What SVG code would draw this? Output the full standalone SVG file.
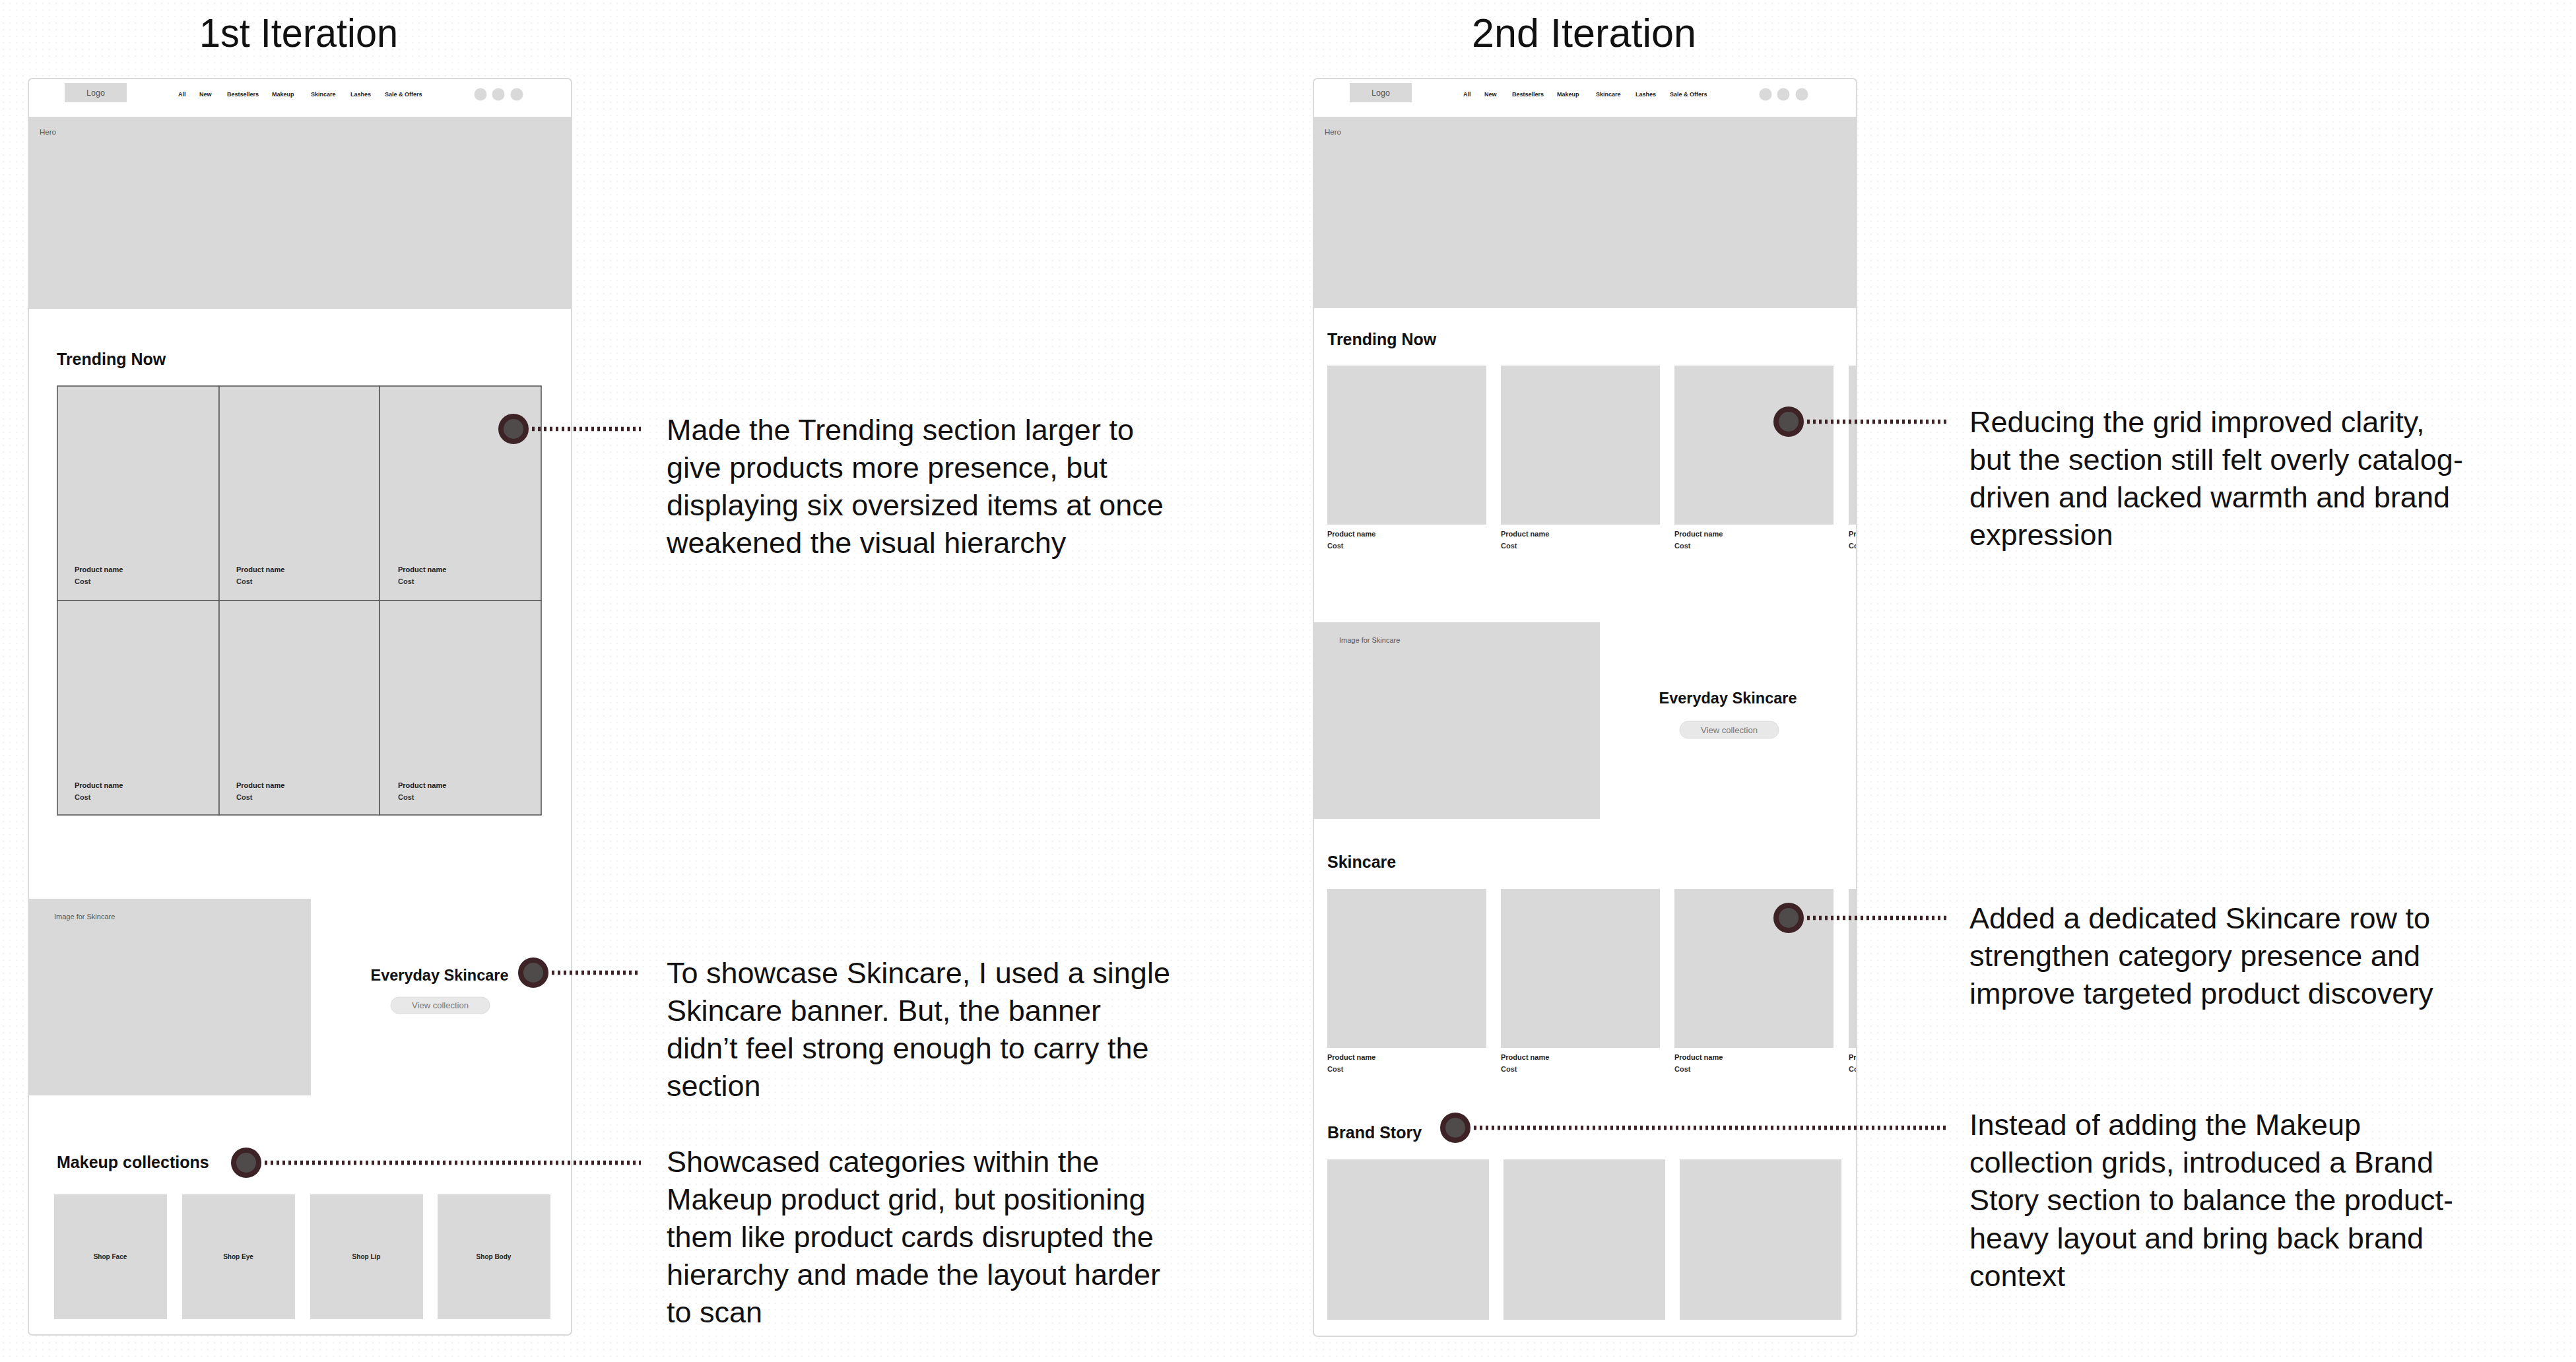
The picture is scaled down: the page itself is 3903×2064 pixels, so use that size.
<svg xmlns="http://www.w3.org/2000/svg" width="3903" height="2064" viewBox="0 0 3903 2064">
<defs>
<pattern id="dots" width="10" height="10" patternUnits="userSpaceOnUse">
<circle cx="5" cy="5" r="0.9" fill="#efefef"/>
</pattern>
<style>
text{font-family:"Liberation Sans",Arial,sans-serif;}
.title{font-size:62px;fill:#111;}
.frame{fill:#fff;stroke:#dadada;stroke-width:2;}
.ph{fill:#d9d9d9;}
.cell{fill:#d9d9d9;stroke:#5a5a5a;stroke-width:1.6;}
.nav{font-size:9px;font-weight:bold;fill:#222;}
.logo{font-size:12.5px;fill:#555;}
.tiny{font-size:11.5px;fill:#555;}
.h2{font-size:25px;font-weight:bold;fill:#111;}
.ev{font-size:23.5px;font-weight:bold;fill:#111;}
.btn{fill:#e8e8e8;stroke:#dcdcdc;stroke-width:1;}
.btnt{font-size:13px;fill:#777;text-anchor:middle;}
.pn{font-size:11px;font-weight:bold;fill:#222;}
.pc{font-size:11px;font-weight:bold;fill:#333;}
.shop{font-size:10px;font-weight:bold;fill:#222;text-anchor:middle;}
.ic{fill:#d9d9d9;}
.pin{fill:#4f4b4b;stroke:#3e2326;stroke-width:8;}
.conn{stroke:#3e2326;stroke-width:6.5;stroke-dasharray:4 5;fill:none;}
.note{font-size:45px;fill:#111;}
</style>
</defs>
<rect width="3903" height="2064" fill="#ffffff"/>
<rect width="3903" height="2064" fill="url(#dots)"/>

<g id="title-1">
<text class="title" x="302" y="71" textLength="301" lengthAdjust="spacingAndGlyphs">1st Iteration</text>
</g>
<g id="title-2">
<text class="title" x="2230" y="71" textLength="340" lengthAdjust="spacingAndGlyphs">2nd Iteration</text>
</g>

<!-- ===== 1st iteration frame ===== -->
<g id="frame-1">
<rect class="frame" x="43" y="119" width="823" height="1904" rx="6"/>
</g>
<g id="header-1">
<rect class="ph" x="98" y="126" width="94" height="29"/>
<text class="logo" x="145" y="145" text-anchor="middle">Logo</text>
<text class="nav" x="270" y="146">All</text>
<text class="nav" x="302" y="146">New</text>
<text class="nav" x="344" y="146">Bestsellers</text>
<text class="nav" x="412" y="146">Makeup</text>
<text class="nav" x="471" y="146">Skincare</text>
<text class="nav" x="531" y="146">Lashes</text>
<text class="nav" x="583" y="146">Sale &amp; Offers</text>
<circle class="ic" cx="728" cy="143" r="9.5"/>
<circle class="ic" cx="755" cy="143" r="9.5"/>
<circle class="ic" cx="783" cy="143" r="9.5"/>
</g>
<g id="hero-1">
<rect class="ph" x="44" y="177" width="821" height="291"/>
<text class="tiny" x="60" y="204">Hero</text>
</g>
<g id="trending-1">
<text class="h2" x="86" y="553">Trending Now</text>
<rect class="cell" x="87" y="585" width="245" height="325"/>
<rect class="cell" x="332" y="585" width="243" height="325"/>
<rect class="cell" x="575" y="585" width="245" height="325"/>
<rect class="cell" x="87" y="910" width="245" height="325"/>
<rect class="cell" x="332" y="910" width="243" height="325"/>
<rect class="cell" x="575" y="910" width="245" height="325"/>
<text class="pn" x="113" y="867">Product name</text><text class="pc" x="113" y="885">Cost</text>
<text class="pn" x="358" y="867">Product name</text><text class="pc" x="358" y="885">Cost</text>
<text class="pn" x="603" y="867">Product name</text><text class="pc" x="603" y="885">Cost</text>
<text class="pn" x="113" y="1194">Product name</text><text class="pc" x="113" y="1212">Cost</text>
<text class="pn" x="358" y="1194">Product name</text><text class="pc" x="358" y="1212">Cost</text>
<text class="pn" x="603" y="1194">Product name</text><text class="pc" x="603" y="1212">Cost</text>
</g>
<g id="skincare-banner-1">
<rect class="ph" x="44" y="1362" width="427" height="298"/>
<text class="tiny" x="82" y="1393" style="font-size:11px">Image for Skincare</text>
<text class="ev" x="666" y="1486" text-anchor="middle">Everyday Skincare</text>
<rect class="btn" x="592" y="1511" width="150" height="25" rx="12.5"/>
<text class="btnt" x="667" y="1528">View collection</text>
</g>
<g id="makeup-1">
<text class="h2" x="86" y="1770">Makeup  collections</text>
<rect class="ph" x="82" y="1810" width="171" height="189"/>
<rect class="ph" x="276" y="1810" width="171" height="189"/>
<rect class="ph" x="470" y="1810" width="171" height="189"/>
<rect class="ph" x="663" y="1810" width="171" height="189"/>
<text class="shop" x="167" y="1908">Shop Face</text>
<text class="shop" x="361" y="1908">Shop Eye</text>
<text class="shop" x="555" y="1908">Shop Lip</text>
<text class="shop" x="748" y="1908">Shop Body</text>
</g>

<!-- ===== 2nd iteration frame ===== -->
<g id="frame-2">
<rect class="frame" x="1990" y="119" width="823" height="1906" rx="6"/>
</g>
<g id="header-2" transform="translate(1947,0)">
<rect class="ph" x="98" y="126" width="94" height="29"/>
<text class="logo" x="145" y="145" text-anchor="middle">Logo</text>
<text class="nav" x="270" y="146">All</text>
<text class="nav" x="302" y="146">New</text>
<text class="nav" x="344" y="146">Bestsellers</text>
<text class="nav" x="412" y="146">Makeup</text>
<text class="nav" x="471" y="146">Skincare</text>
<text class="nav" x="531" y="146">Lashes</text>
<text class="nav" x="583" y="146">Sale &amp; Offers</text>
<circle class="ic" cx="728" cy="143" r="9.5"/>
<circle class="ic" cx="755" cy="143" r="9.5"/>
<circle class="ic" cx="783" cy="143" r="9.5"/>
</g>
<g id="hero-2">
<rect class="ph" x="1991" y="177" width="821" height="290"/>
<text class="tiny" x="2007" y="204">Hero</text>
</g>
<g id="trending-2">
<text class="h2" x="2011" y="523">Trending Now</text>
<rect class="ph" x="2011" y="554" width="241" height="241"/>
<rect class="ph" x="2274" y="554" width="241" height="241"/>
<rect class="ph" x="2537" y="554" width="241" height="241"/>
<rect class="ph" x="2801" y="554" width="11" height="241"/>
<text class="pn" x="2011" y="813">Product name</text><text class="pc" x="2011" y="831">Cost</text>
<text class="pn" x="2274" y="813">Product name</text><text class="pc" x="2274" y="831">Cost</text>
<text class="pn" x="2537" y="813">Product name</text><text class="pc" x="2537" y="831">Cost</text>
<svg x="2801" y="790" width="11" height="50" overflow="hidden"><text class="pn" x="0" y="23">Product name</text><text class="pc" x="0" y="41">Cost</text></svg>
</g>
<g id="skincare-banner-2">
<rect class="ph" x="1991" y="943" width="433" height="298"/>
<text class="tiny" x="2029" y="974" style="font-size:11px">Image for Skincare</text>
<text class="ev" x="2618" y="1066" text-anchor="middle">Everyday Skincare</text>
<rect class="btn" x="2545" y="1093" width="150" height="26" rx="13"/>
<text class="btnt" x="2620" y="1111">View collection</text>
</g>
<g id="skincare-row-2">
<text class="h2" x="2011" y="1315">Skincare</text>
<rect class="ph" x="2011" y="1347" width="241" height="241"/>
<rect class="ph" x="2274" y="1347" width="241" height="241"/>
<rect class="ph" x="2537" y="1347" width="241" height="241"/>
<rect class="ph" x="2801" y="1347" width="11" height="241"/>
<text class="pn" x="2011" y="1606">Product name</text><text class="pc" x="2011" y="1624">Cost</text>
<text class="pn" x="2274" y="1606">Product name</text><text class="pc" x="2274" y="1624">Cost</text>
<text class="pn" x="2537" y="1606">Product name</text><text class="pc" x="2537" y="1624">Cost</text>
<svg x="2801" y="1583" width="11" height="50" overflow="hidden"><text class="pn" x="0" y="23">Product name</text><text class="pc" x="0" y="41">Cost</text></svg>
</g>
<g id="brand-story-2">
<text class="h2" x="2011" y="1725">Brand Story</text>
<rect class="ph" x="2011" y="1757" width="245" height="243"/>
<rect class="ph" x="2278" y="1757" width="245" height="243"/>
<rect class="ph" x="2545" y="1757" width="245" height="243"/>
</g>

<!-- ===== connectors ===== -->
<g id="connectors">
<line class="conn" x1="806" y1="650" x2="971" y2="650"/>
<line class="conn" x1="836" y1="1474" x2="971" y2="1474"/>
<line class="conn" x1="401" y1="1762" x2="971" y2="1762"/>
<line class="conn" x1="2738" y1="639" x2="2952" y2="639"/>
<line class="conn" x1="2738" y1="1391" x2="2952" y2="1391"/>
<line class="conn" x1="2233" y1="1709" x2="2952" y2="1709"/>
</g>
<g id="pins">
<circle class="pin" cx="778" cy="650" r="19"/>
<circle class="pin" cx="808" cy="1474" r="19"/>
<circle class="pin" cx="373" cy="1762" r="19"/>
<circle class="pin" cx="2710" cy="639" r="19"/>
<circle class="pin" cx="2710" cy="1391" r="19"/>
<circle class="pin" cx="2205" cy="1709" r="19"/>
</g>

<!-- ===== annotations ===== -->
<g id="note-1">
<text class="note" x="1010" y="667">Made the Trending section larger to</text>
<text class="note" x="1010" y="724">give products more presence, but</text>
<text class="note" x="1010" y="781">displaying six oversized items at once</text>
<text class="note" x="1010" y="838">weakened the visual hierarchy</text>
</g>
<g id="note-2">
<text class="note" x="1010" y="1490">To showcase Skincare, I used a single</text>
<text class="note" x="1010" y="1547">Skincare banner. But, the banner</text>
<text class="note" x="1010" y="1604">didn’t feel strong enough to carry the</text>
<text class="note" x="1010" y="1661">section</text>
</g>
<g id="note-3">
<text class="note" x="1010" y="1776">Showcased categories within the</text>
<text class="note" x="1010" y="1833">Makeup product grid, but positioning</text>
<text class="note" x="1010" y="1890">them like product cards disrupted the</text>
<text class="note" x="1010" y="1947">hierarchy and made the layout harder</text>
<text class="note" x="1010" y="2004">to scan</text>
</g>
<g id="note-4">
<text class="note" x="2984" y="655">Reducing the grid improved clarity,</text>
<text class="note" x="2984" y="712">but the section still felt overly catalog-</text>
<text class="note" x="2984" y="769">driven and lacked warmth and brand</text>
<text class="note" x="2984" y="826">expression</text>
</g>
<g id="note-5">
<text class="note" x="2984" y="1407">Added a dedicated Skincare row to</text>
<text class="note" x="2984" y="1464">strengthen category presence and</text>
<text class="note" x="2984" y="1521">improve targeted product discovery</text>
</g>
<g id="note-6">
<text class="note" x="2984" y="1720">Instead of adding the Makeup</text>
<text class="note" x="2984" y="1777">collection grids, introduced a Brand</text>
<text class="note" x="2984" y="1834">Story section to balance the product-</text>
<text class="note" x="2984" y="1892">heavy layout and bring back brand</text>
<text class="note" x="2984" y="1949">context</text>
</g>
</svg>
